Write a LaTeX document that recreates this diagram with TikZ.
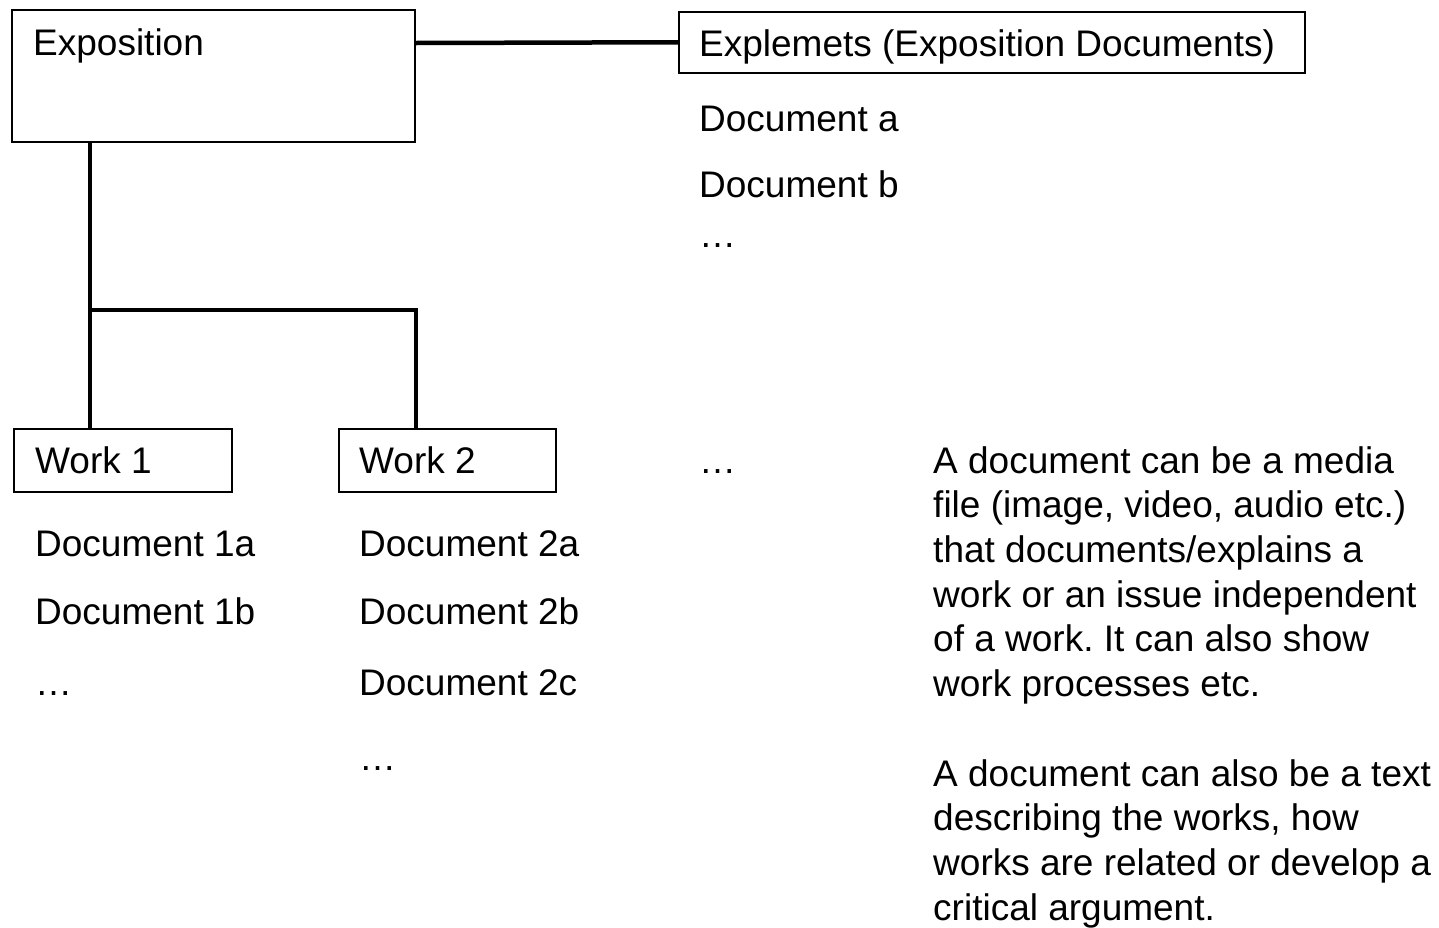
\documentclass[tikz,border=0pt]{standalone}
\usepackage{fontspec}
\setmainfont{Liberation Sans}
\usetikzlibrary{calc}
\frenchspacing
\begin{document}
\begin{tikzpicture}[x=1pt,y=-1pt,
  box/.style={draw, line width=1.5pt, inner sep=0pt, anchor=north west},
  lbl/.style={anchor=base west, inner sep=0pt, font=\fontsize{37}{44.7}\selectfont},
  conn/.style={line width=4.5pt}]
\useasboundingbox (0,0) rectangle (1439,927);
% boxes
\node[box, minimum width=403pt, minimum height=132pt] (expo) at (11,9) {};
\node[box, minimum width=626pt, minimum height=61pt] (expl) at (678,11) {};
\node[box, minimum width=218pt, minimum height=63pt] (w1) at (13,428) {};
\node[box, minimum width=217pt, minimum height=63pt] (w2) at (338,428) {};
% connectors
\coordinate (j) at (90,310);
\coordinate (k) at (416,310);
\draw[conn] ($(expo.north east)+(0,34)$) -- (expl.west);
\draw[conn] (expo.south -| j) -- (w1.north -| j);
\draw[conn] (j) -- (k) -- (w2.north -| k);
% labels
\node[lbl] (texpo) at (33,55) {Exposition};
\node[lbl] (texpl) at (699,56) {Explemets (Exposition Documents)};
\node[lbl] (da) at (699,131) {Document a};
\node[lbl] (db) at (699,197) {Document b};
\node[lbl] (dd) at (699,247) {…};
\node[lbl] (tw1) at (35,473) {Work 1};
\node[lbl] (tw2) at (359,473) {Work 2};
\node[lbl] (d1a) at (35,556) {Document 1a};
\node[lbl] (d1b) at (35,624) {Document 1b};
\node[lbl] (d1d) at (35,695) {…};
\node[lbl] (d2a) at (359,556) {Document 2a};
\node[lbl] (d2b) at (359,624) {Document 2b};
\node[lbl] (d2c) at (359,695) {Document 2c};
\node[lbl] (d2d) at (359,770) {…};
\node[lbl] (mdots) at (699,473) {…};
\node[lbl] (p1) at (933,473) {\begin{tabular}[t]{@{}l@{}}A document can be a media\\file (image, video, audio etc.)\\that documents/explains a\\work or an issue independent\\of a work. It can also show\\work processes etc.\end{tabular}};
\node[lbl] (p2) at (933,786) {\begin{tabular}[t]{@{}l@{}}A document can also be a text\\describing the works, how\\works are related or develop a\\critical argument.\end{tabular}};
\end{tikzpicture}
\end{document}
